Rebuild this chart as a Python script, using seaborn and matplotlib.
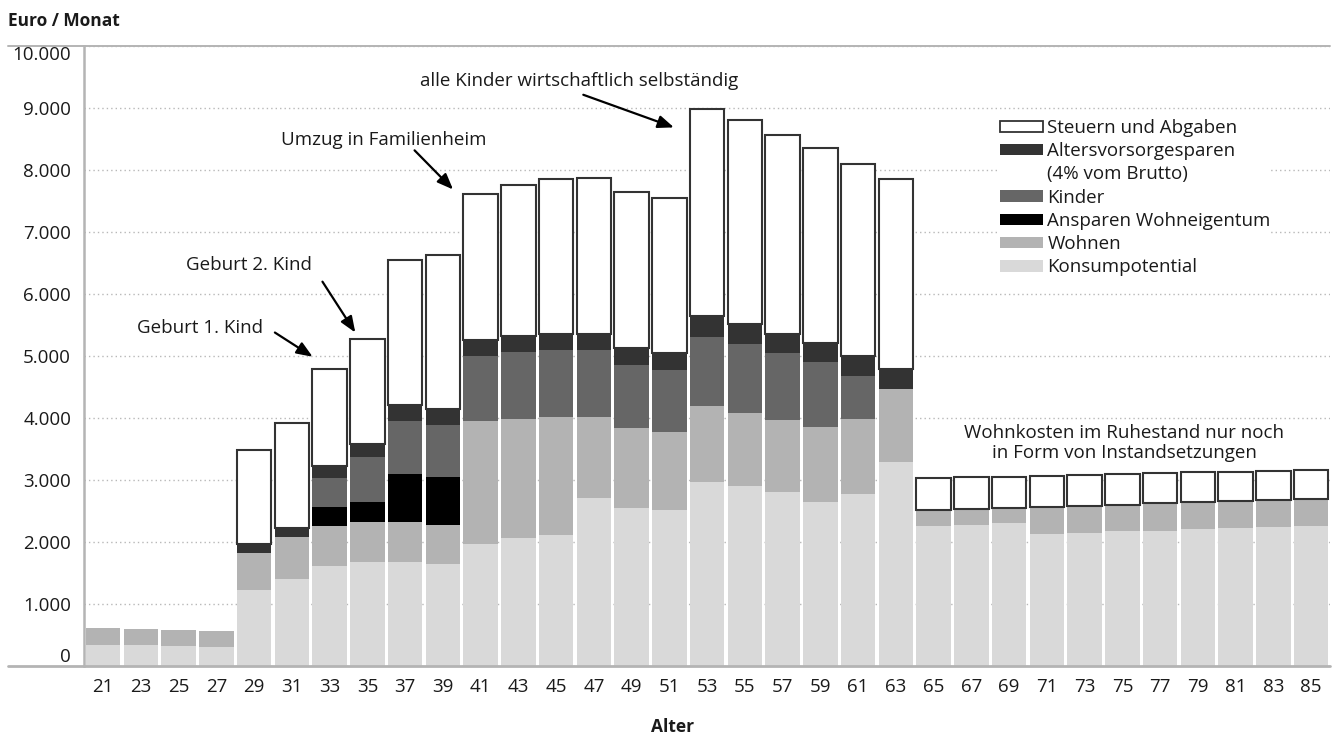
import numpy as np
import pandas as pd
import matplotlib
matplotlib.use("Agg")
import matplotlib.pyplot as plt
from matplotlib.patches import Patch
from matplotlib.lines import Line2D
import seaborn as sns

# Monthly budget by age (Euro / month), stacked from bottom to top
ages = list(range(21, 86, 2))
konsumpotential = [340, 340, 320, 305, 1230, 1400, 1610, 1670, 1670, 1650,
                   1965, 2060, 2110, 2710, 2550, 2515, 2965, 2895, 2800, 2650, 2780, 3290,
                   2255, 2270, 2300, 2130, 2145, 2170, 2170, 2205, 2220, 2235, 2255]
wohnen = [270, 255, 260, 260, 590, 675, 640, 645, 645, 630,
          1980, 1930, 1910, 1310, 1280, 1250, 1225, 1190, 1170, 1205, 1205, 1180,
          265, 260, 245, 440, 440, 430, 455, 445, 445, 445, 435]
ansparen = [0, 0, 0, 0, 0, 0, 320, 335, 785, 765,
            0, 0, 0, 0, 0, 0, 0, 0, 0, 0, 0, 0,
            0, 0, 0, 0, 0, 0, 0, 0, 0, 0, 0]
kinder = [0, 0, 0, 0, 0, 0, 455, 725, 855, 840,
          1055, 1075, 1075, 1075, 1030, 1010, 1115, 1105, 1075, 1045, 690, 0,
          0, 0, 0, 0, 0, 0, 0, 0, 0, 0, 0]
altersvorsorge = [0, 0, 0, 0, 145, 155, 195, 200, 250, 255,
                  250, 255, 260, 260, 265, 265, 335, 325, 315, 315, 325, 320,
                  0, 0, 0, 0, 0, 0, 0, 0, 0, 0, 0]
steuern = [0, 0, 0, 0, 1520, 1680, 1575, 1700, 2335, 2490,
           2365, 2435, 2490, 2505, 2515, 2500, 3340, 3285, 3205, 3135, 3090, 3060,
           510, 510, 505, 500, 495, 495, 485, 475, 470, 470, 470]

yticks = [0, 1000, 2000, 3000, 4000, 5000, 6000, 7000, 8000, 9000, 10000]
ytick_labels = ["0", "1.000", "2.000", "3.000", "4.000", "5.000",
                "6.000", "7.000", "8.000", "9.000", "10.000"]

sns.set_style("white")
plt.rcParams["font.family"] = ["Open Sans", "DejaVu Sans"]
FS = 13.5
TXT = "#1a1a1a"
AXIS_GREY = "#b4b4b4"

W, H = 1335, 734
fig = plt.figure(figsize=(W / 100, H / 100), dpi=100)
x0, x1, y_top, y_bot = 83.5, 1330, 45.7, 666
ax = fig.add_axes([x0 / W, 1 - y_bot / H, (x1 - x0) / W, (y_bot - y_top) / H])

labels = [str(a) for a in ages]
df = pd.DataFrame({
    "Alter": labels,
    "Konsumpotential": konsumpotential,
    "Wohnen": wohnen,
    "Ansparen Wohneigentum": ansparen,
    "Kinder": kinder,
    "Altersvorsorgesparen": altersvorsorge,
    "Steuern und Abgaben": steuern,
})

layers = [
    ("Konsumpotential", "#d9d9d9"),
    ("Wohnen", "#b3b3b3"),
    ("Ansparen Wohneigentum", "#000000"),
    ("Kinder", "#666666"),
    ("Altersvorsorgesparen", "#333333"),
    ("Steuern und Abgaben", "#ffffff"),
]

bottom = np.zeros(len(df))
for name, col in layers:
    n_before = len(ax.patches)
    outlined = name == "Steuern und Abgaben"
    sns.barplot(data=df, x="Alter", y=name, order=labels, color=col,
                saturation=1, width=0.92, errorbar=None, ax=ax,
                bottom=bottom.copy(),
                edgecolor="#333333" if outlined else "none",
                linewidth=1.5 if outlined else 0, zorder=2)
    for p in ax.patches[n_before:]:
        if p.get_height() == 0:
            p.set_visible(False)
    bottom += df[name].to_numpy(dtype=float)

ax.set_xlim(-0.52, 32.5)
ax.set_ylim(0, 10000)
ax.set_xlabel("")
ax.set_ylabel("")

ax.set_yticks(yticks, ytick_labels)
ax.tick_params(axis="y", length=0, pad=9, labelsize=FS, labelcolor=TXT)
ax.tick_params(axis="x", length=0, pad=9, labelsize=FS, labelcolor=TXT)
ylabs = ax.get_yticklabels()
ylabs[0].set_va("bottom")
ylabs[-1].set_va("top")

ax.set_axisbelow(True)
ax.yaxis.grid(True, color="#b8b8b8", linestyle=(0, (1, 2.2)), linewidth=1.0)
ax.xaxis.grid(False)

for s in ("top", "right", "bottom"):
    ax.spines[s].set_visible(False)
ax.spines["left"].set_color(AXIS_GREY)
ax.spines["left"].set_linewidth(1.8)

# frame lines across the full width (also under the tick labels)
xl = (8 - x0) / (x1 - x0)
ax.add_line(Line2D([xl, 1.0], [1.0, 1.0], transform=ax.transAxes, color=AXIS_GREY,
                   lw=1.4, clip_on=False, zorder=4))
ax.add_line(Line2D([xl, 1.0], [0.0, 0.0], transform=ax.transAxes, color=AXIS_GREY,
                   lw=2.0, clip_on=False, zorder=4))

# titles of the axes
fig.text(8 / W, 1 - 26.5 / H, "Euro / Monat", ha="left", va="baseline",
         fontsize=12.5, fontweight="bold", color=TXT)
fig.text(672.5 / W, 1 - 732 / H, "Alter", ha="center", va="baseline",
         fontsize=12.5, fontweight="bold", color=TXT)

# annotations with arrows
arrow_kw = dict(arrowstyle="-|>,head_length=0.8,head_width=0.32", color="black",
                lw=1.6, shrinkA=0, shrinkB=0, mutation_scale=12)
notes = [
    ("Geburt 1. Kind", (2.56, 5451), (4.55, 5376), (5.55, 4985)),
    ("Geburt 2. Kind", (3.85, 6459), (5.81, 6196), (6.68, 5376)),
    ("Umzug in Familienheim", (7.43, 8474), (8.25, 8313), (9.27, 7682)),
    ("alle Kinder wirtschaftlich selbständig", (12.62, 9423), (12.72, 9209), (15.12, 8683)),
]
for text, pos, tail, head in notes:
    ax.text(pos[0], pos[1], text, ha="center", va="center", fontsize=FS, color=TXT, zorder=5)
    ax.annotate("", xy=head, xytext=tail, arrowprops=arrow_kw, zorder=5)

ax.text(27.05, 3594, "Wohnkosten im Ruhestand nur noch\nin Form von Instandsetzungen",
        ha="center", va="center", fontsize=FS, color=TXT, linespacing=1.15, zorder=5)

# legend
handles = [
    Patch(facecolor="white", edgecolor="#333333", linewidth=1.3, label="Steuern und Abgaben"),
    Patch(facecolor="#333333", edgecolor="none", label="Altersvorsorgesparen"),
    Patch(facecolor="none", edgecolor="none", label="(4% vom Brutto)"),
    Patch(facecolor="#666666", edgecolor="none", label="Kinder"),
    Patch(facecolor="#000000", edgecolor="none", label="Ansparen Wohneigentum"),
    Patch(facecolor="#b3b3b3", edgecolor="none", label="Wohnen"),
    Patch(facecolor="#d9d9d9", edgecolor="none", label="Konsumpotential"),
]
leg = fig.legend(handles=handles, loc="upper left",
                 bbox_to_anchor=(1000 / W, 1 - 119 / H), bbox_transform=fig.transFigure,
                 frameon=True, facecolor="white", edgecolor="none", framealpha=1,
                 fancybox=False, borderpad=0, borderaxespad=0,
                 handlelength=2.3, handleheight=0.55, handletextpad=0.22,
                 labelspacing=0.28, fontsize=FS, labelcolor=TXT)

fig.savefig("out.png", dpi=100)
